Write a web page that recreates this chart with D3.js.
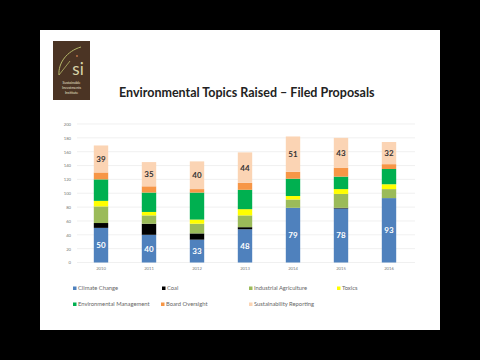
<!DOCTYPE html>
<html>
<head>
<meta charset="utf-8">
<script src="https://cdn.jsdelivr.net/npm/d3@7"></script>
<style>
  html, body { margin: 0; padding: 0; background: #000; }
  svg { display: block; }
</style>
</head>
<body>
<div id="chart"></div>
<script>
// chart values
var years = ["2010", "2011", "2012", "2013", "2014", "2015", "2016"];
var climateChange = [50, 40, 33, 48, 79, 78, 93];
var coal = [7, 16, 9, 3, 0, 1, 0];
var industrialAgriculture = [24, 12, 14, 17, 12, 20, 13];
var toxics = [8, 5, 6, 9, 5, 7, 7];
var environmentalManagement = [31, 28, 39, 28, 25, 18, 22];
var boardOversight = [10, 9, 5, 10, 10, 13, 7];
var sustainabilityReporting = [39, 35, 40, 44, 51, 43, 32];
var yTicks = [0, 20, 40, 60, 80, 100, 120, 140, 160, 180, 200];

var seriesNames = ["Climate Change", "Coal", "Industrial Agriculture", "Toxics",
  "Environmental Management", "Board Oversight", "Sustainability Reporting"];
var seriesValues = [climateChange, coal, industrialAgriculture, toxics,
  environmentalManagement, boardOversight, sustainabilityReporting];
var colors = ["#4f81bd", "#000000", "#9bbb59", "#ffff00", "#00b050", "#f79646", "#fbd4b4"];

const W = 480, H = 360;
const font = "Lato, 'Open Sans', sans-serif";

var svg = d3.select("#chart").append("svg")
  .attr("width", W)
  .attr("height", H);

svg.append("rect").attr("width", W).attr("height", H).attr("fill", "#000");
// slide
svg.append("rect")
  .attr("x", 40).attr("y", 30)
  .attr("width", 400).attr("height", 300)
  .attr("fill", "#fff");

// logo
var logo = svg.append("g").attr("transform", "translate(53,41)");
logo.append("rect").attr("width", 37).attr("height", 59).attr("fill", "#4b3424");
logo.append("path")
  .attr("d", "M6,34 C5,22 14,10 28,6")
  .attr("fill", "none").attr("stroke", "#b5b86a").attr("stroke-width", 1);
logo.append("path")
  .attr("d", "M6,34 L17,20")
  .attr("fill", "none").attr("stroke", "#b5b86a").attr("stroke-width", 0.8);
logo.append("circle").attr("cx", 24).attr("cy", 15).attr("r", 0.9).attr("fill", "#c8784a");
logo.append("text")
  .attr("x", 25).attr("y", 34)
  .attr("text-anchor", "middle")
  .attr("font-family", font).attr("font-size", 17)
  .attr("fill", "#d8d3a8")
  .text("si");
["Sustainable", "Investments", "Institute"].forEach(function(t, i) {
  logo.append("text")
    .attr("x", 18.5).attr("y", 43 + i * 5)
    .attr("text-anchor", "middle")
    .attr("font-family", font).attr("font-size", 3.6)
    .attr("fill", "#e8e2d0")
    .text(t);
});

// title
svg.append("text")
  .attr("x", 119).attr("y", 97)
  .attr("font-family", font).attr("font-weight", "bold")
  .attr("font-size", 12.5).attr("fill", "#222")
  .text("Environmental Topics Raised \u2013 Filed Proposals");

// scales
var x = d3.scaleBand().domain(years).range([77, 413]).paddingInner(0.7).paddingOuter(0.35);
var y = d3.scaleLinear().domain([0, 200]).range([262.5, 124]);

// gridlines
svg.append("g").selectAll("line")
  .data(yTicks)
  .enter().append("line")
  .attr("x1", 77).attr("x2", 415)
  .attr("y1", d => y(d)).attr("y2", d => y(d))
  .attr("stroke", "#e6e6e6").attr("stroke-width", 0.6);

// y axis labels
var yAxis = d3.axisLeft(y).tickValues(yTicks).tickSize(0).tickPadding(0);
var gy = svg.append("g").attr("transform", "translate(71,0)").call(yAxis);
gy.select(".domain").remove();
gy.selectAll("text")
  .attr("font-family", font).attr("font-size", 4.2).attr("fill", "#777");

// x axis labels
var xAxis = d3.axisBottom(x).tickSize(0).tickPadding(0);
var gx = svg.append("g").attr("transform", "translate(0,267)").call(xAxis);
gx.select(".domain").remove();
gx.selectAll("text")
  .attr("font-family", font).attr("font-size", 4.2).attr("fill", "#777");

// stacked data
var table = years.map(function(yr, i) {
  var row = { year: yr };
  seriesNames.forEach(function(s, k) { row[s] = seriesValues[k][i]; });
  return row;
});
var stacked = d3.stack().keys(seriesNames)(table);

var layers = svg.append("g").selectAll("g")
  .data(stacked)
  .enter().append("g")
  .attr("fill", (d, i) => colors[i]);

layers.selectAll("rect")
  .data(d => d)
  .enter().append("rect")
  .attr("x", d => x(d.data.year))
  .attr("width", x.bandwidth())
  .attr("y", d => y(d[1]))
  .attr("height", d => y(d[0]) - y(d[1]));

// data labels for climate change and sustainability reporting
function addLabels(layer, fill) {
  svg.append("g").selectAll("text")
    .data(layer)
    .enter().append("text")
    .attr("x", d => x(d.data.year) + x.bandwidth() / 2)
    .attr("y", d => (y(d[0]) + y(d[1])) / 2 + 3)
    .attr("text-anchor", "middle")
    .attr("font-family", font).attr("font-weight", "bold")
    .attr("font-size", 8).attr("fill", fill)
    .text(d => d[1] - d[0]);
}
addLabels(stacked[0], "#fff");
addLabels(stacked[6], "#333");

// legend
var legendPos = [[73, 290], [162, 290], [249, 290], [337, 290], [73, 306], [161, 306], [249, 306]];
var legend = svg.append("g").selectAll("g")
  .data(seriesNames)
  .enter().append("g")
  .attr("transform", (d, i) => "translate(" + legendPos[i][0] + "," + legendPos[i][1] + ")");
legend.append("rect")
  .attr("x", 0).attr("y", -3.5)
  .attr("width", 3.5).attr("height", 3.5)
  .attr("fill", (d, i) => colors[i]);
legend.append("text")
  .attr("x", 5).attr("y", 0)
  .attr("font-family", font).attr("font-size", 5.8).attr("fill", "#666")
  .text(d => d);
</script>
</body>
</html>
